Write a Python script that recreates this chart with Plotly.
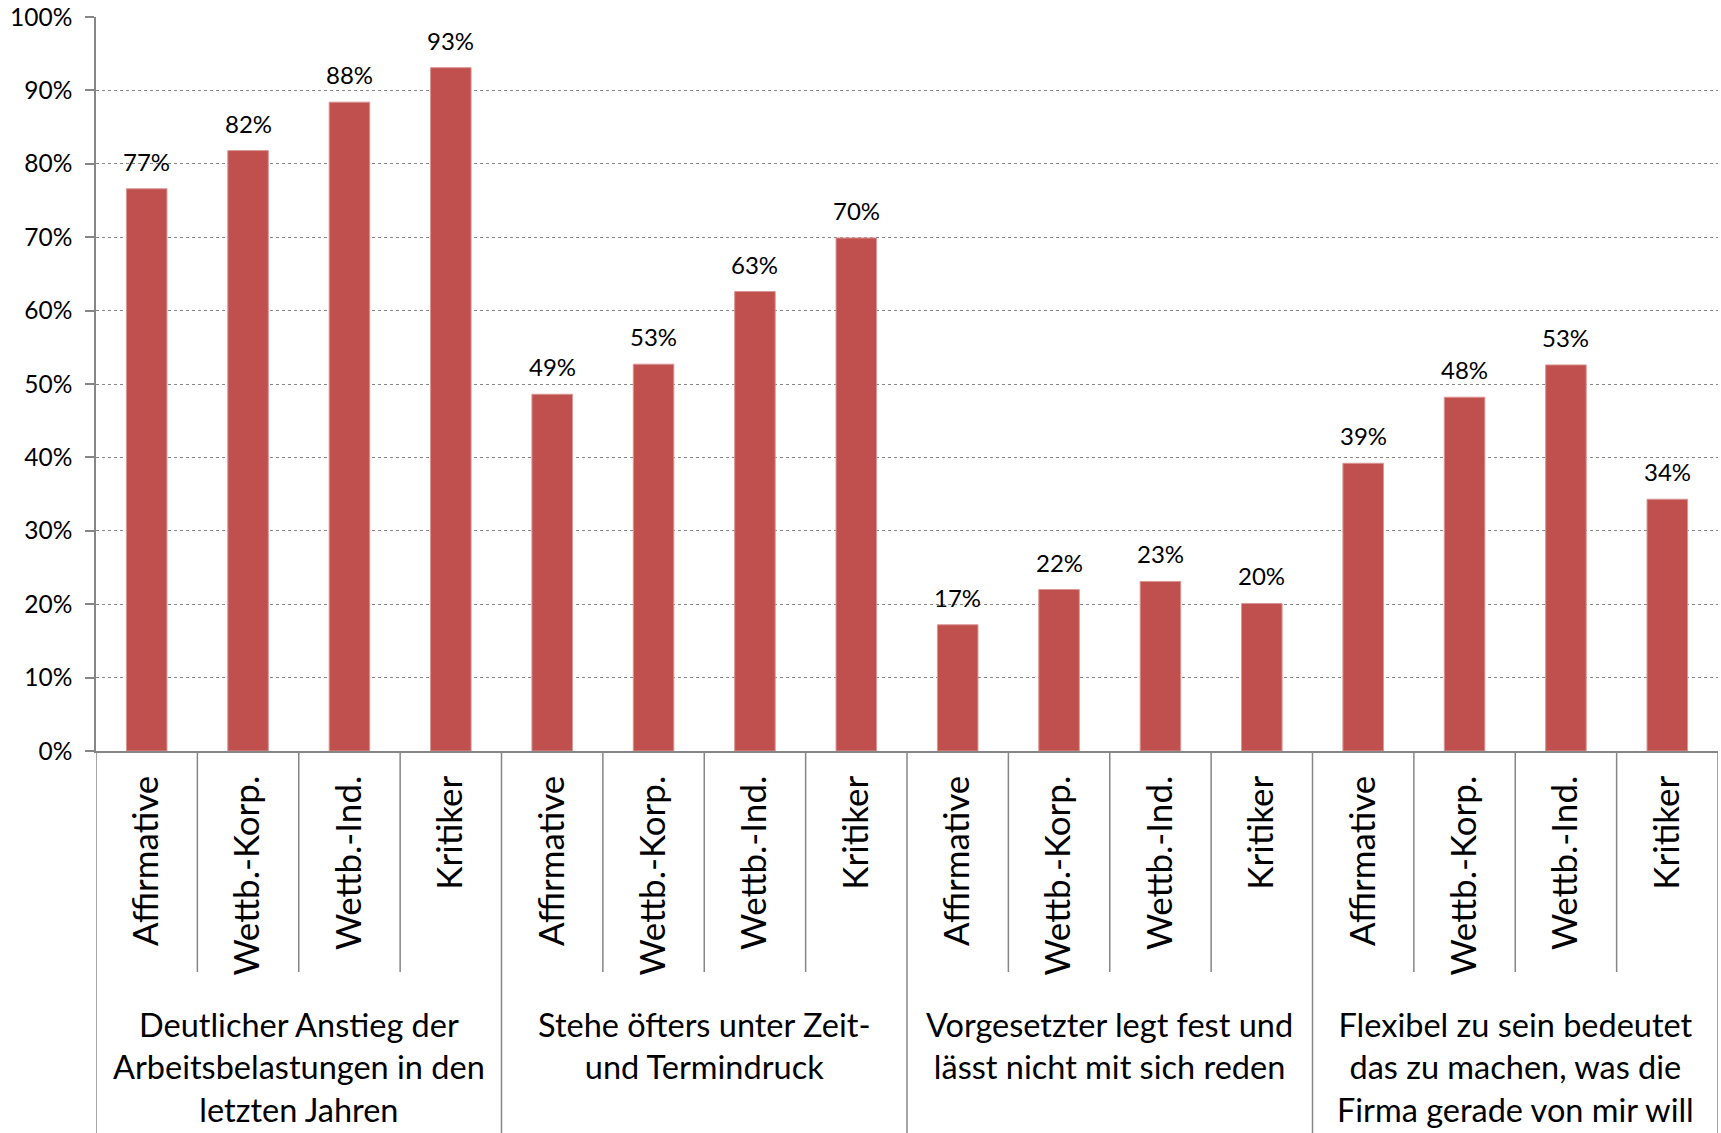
import plotly.graph_objects as go

groups = [
    "Deutlicher Anstieg der<br>Arbeitsbelastungen in den<br>letzten Jahren",
    "Stehe öfters unter Zeit-<br>und Termindruck",
    "Vorgesetzter legt fest und<br>lässt nicht mit sich reden",
    "Flexibel zu sein bedeutet<br>das zu machen, was die<br>Firma gerade von mir will",
]
types = ["Affirmative", "Wettb.-Korp.", "Wettb.-Ind.", "Kritiker"]

vals_g1 = [0.766, 0.818, 0.884, 0.931]
vals_g2 = [0.486, 0.527, 0.626, 0.699]
vals_g3 = [0.172, 0.220, 0.231, 0.201]
vals_g4 = [0.392, 0.482, 0.526, 0.343]

values = vals_g1 + vals_g2 + vals_g3 + vals_g4
labels = types * 4
xs = list(range(len(values)))

BAR = "#C0504D"
AX = "#868686"
FONT = "Lato"

fig = go.Figure()
fig.add_trace(go.Bar(
    x=xs, y=values, width=0.4,
    marker=dict(color=BAR, line=dict(color="#D99694", width=1)),
    showlegend=False, hoverinfo="skip",
))

annotations = []
for x, v in zip(xs, values):
    annotations.append(dict(
        x=x, y=v, xref="x", yref="y", text=f"{round(v*100):d}%",
        showarrow=False, yanchor="bottom", yshift=11,
        font=dict(family=FONT, size=24, color="#000"),
    ))

# plot area geometry in pixels for paper conversions
H, T, B = 1133, 17, 382
ph = H - T - B

def py(pix):
    return (H - B - pix) / ph

for gi, g in enumerate(groups):
    annotations.append(dict(
        x=gi * 4 + 1.5, y=py(1003), xref="x", yref="paper", text=g,
        showarrow=False, yanchor="top", xanchor="center", align="center",
        font=dict(family=FONT, size=32.5, color="#000"),
    ))

shapes = []
for i in range(len(values) + 1):
    bottom = py(1140) if i % 4 == 0 else py(972)
    shapes.append(dict(
        type="line", xref="x", yref="paper", x0=i - 0.5, x1=i - 0.5,
        y0=0, y1=bottom, line=dict(color=AX, width=1.5), layer="above",
    ))

fig.update_layout(
    width=1721, height=H,
    margin=dict(l=96, r=3, t=T, b=B),
    paper_bgcolor="white", plot_bgcolor="white",
    bargap=0.6,
    annotations=annotations, shapes=shapes,
    font=dict(family=FONT, color="#000"),
)
fig.update_xaxes(
    range=[-0.5, len(values) - 0.5],
    tickmode="array", tickvals=xs, ticktext=labels, tickangle=-90,
    tickfont=dict(family=FONT, size=35, color="#000"),
    showgrid=False, showline=True, linecolor=AX, linewidth=1.5,
    ticks="", ticklabelstandoff=9, zeroline=False,
)
fig.update_yaxes(
    range=[0, 1.0], dtick=0.1, tick0=0, tickformat=".0%",
    tickfont=dict(family=FONT, size=24.5, color="#000"),
    showgrid=True, gridcolor=AX, griddash="dot", gridwidth=1.2,
    showline=True, linecolor=AX, linewidth=1.5,
    ticks="outside", ticklen=9, tickcolor=AX, tickwidth=1.5,
    ticklabelstandoff=8,
    zeroline=False,
)

fig.write_html("out.html")
